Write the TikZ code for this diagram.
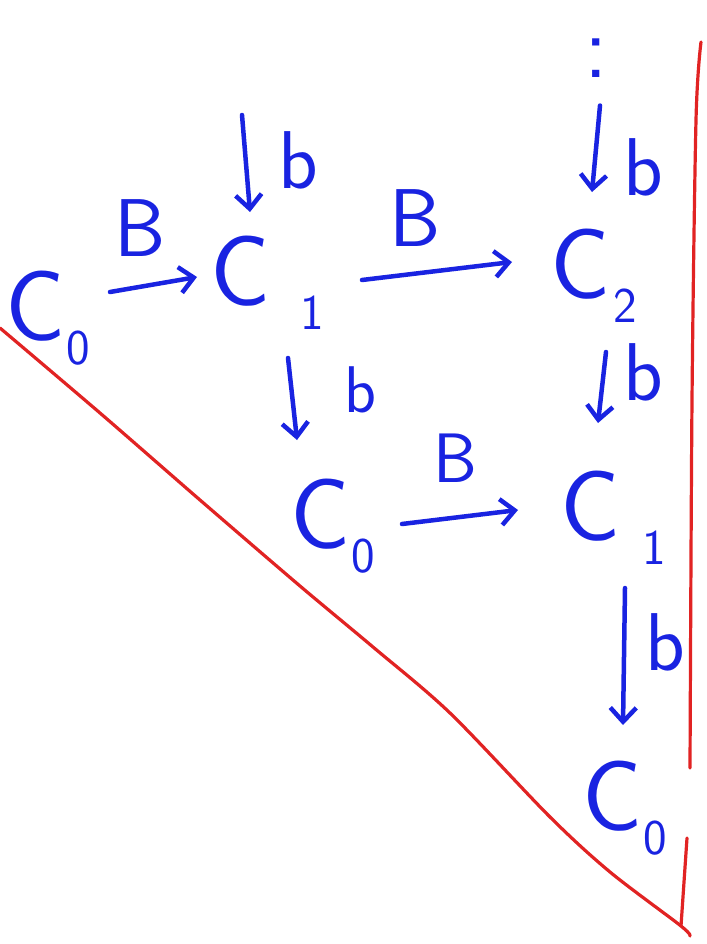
\documentclass[tikz,border=0pt]{standalone}
\usetikzlibrary{arrows.meta,calc}
\definecolor{inkblue}{RGB}{25,35,225}
\definecolor{inkred}{RGB}{225,35,35}
\newcommand{\Csub}[2]{C\kern#2\raisebox{-24pt}{\fontsize{50}{50}\selectfont #1}}
\tikzset{
  obj/.style={inkblue, font=\fontsize{100}{100}\sffamily\selectfont, inner sep=0pt, anchor=base west},
  lbl/.style={inkblue, font=\fontsize{82}{82}\sffamily\selectfont, inner sep=0pt},
  arr/.style={inkblue, line width=4.5pt, line cap=round, -{Straight Barb[length=14pt,width=26pt,line width=4.5pt]}},
  redline/.style={inkred, line width=3.2pt, line cap=round, line join=round}
}
\begin{document}
\begin{tikzpicture}[x=1pt,y=-1pt]
\useasboundingbox (0,0) rectangle (706,944);
% red boundary
\draw[redline] plot[smooth] coordinates {(701,42) (696,120) (692,400) (690,768)};
\draw[redline] (687,838) -- (681,926);
\draw[redline] plot[smooth] coordinates {(0,328) (100,413) (200,500) (300,586) (373,647) (450,713) (550,817) (610,872) (681,926) (690,936)};
% objects
\node[obj] (c0a) at (5,340) {\Csub{0}{1pt}};
\node[obj] (c1a) at (210,305) {\Csub{1}{30pt}};
\node[obj] (c2)  at (550,298) {\Csub{2}{3pt}};
\node[obj] (c0b) at (290,548) {\Csub{0}{1pt}};
\node[obj] (c1b) at (560,540) {\Csub{1}{22pt}};
\node[obj] (c0c) at (582,830) {\Csub{0}{1pt}};
\node[lbl, font=\fontsize{90}{90}\sffamily\selectfont] (dots) at (596,58) {:};
\coordinate (top1) at (242,115);
% arrows
\draw[arr] ($(c0a.base west)+(105,-48)$) -- ($(c1a.base west)+(-13,-28)$);
\draw[arr] ($(c1a.base west)+(152,-25)$) -- ($(c2.base west)+(-38,-36)$);
\draw[arr] (top1) -- ($(c1a.base west)+(40,-93)$);
\draw[arr] ($(dots.south)+(4,28)$) -- ($(c2.base west)+(42,-106)$);
\draw[arr] ($(c2.base west)+(56,54)$) -- ($(c1b.base west)+(38,-117)$);
\draw[arr] ($(c1a.base west)+(78,53)$) -- ($(c0b.base west)+(7,-108)$);
\draw[arr] ($(c0b.base west)+(112,-24)$) -- ($(c1b.base west)+(-42,-30)$);
\draw[arr] ($(c1b.base west)+(65,48)$) -- ($(c0c.base west)+(41,-105)$);
% labels
\node[lbl] (l1) at (140,228) {B};
\node[lbl] (l2) at (415,218) {B};
\node[lbl] (l3) at (298,160) {b};
\node[lbl] (l4) at (643,167) {b};
\node[lbl] (l5) at (643,372) {b};
\node[lbl, font=\fontsize{66}{66}\sffamily\selectfont] (l6) at (360,390) {b};
\node[lbl, font=\fontsize{70}{70}\sffamily\selectfont] (l7) at (455,458) {B};
\node[lbl] (l8) at (665,642) {b};
\end{tikzpicture}
\end{document}
